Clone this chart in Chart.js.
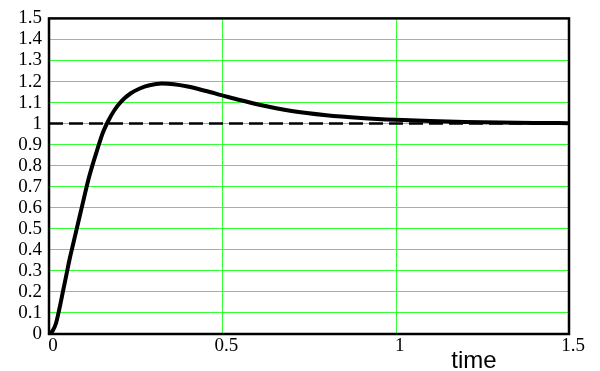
<!DOCTYPE html>
<html lang="en">
<head>
    <meta charset="UTF-8">
    <title>Step Response</title>
    <script src="https://cdn.jsdelivr.net/npm/chart.js"></script>
    <style>
        html, body { margin: 0; padding: 0; background: #ffffff; }
        .chart-box { width: 600px; height: 371px; }
    </style>
</head>
<body>
    <div class="chart-box"><canvas id="stepChart"></canvas></div>

    <script>
        // values
        const timeValues = [0, 0.01, 0.02, 0.03, 0.04, 0.05, 0.06, 0.07, 0.08, 0.09, 0.1, 0.113, 0.125, 0.14,
            0.155, 0.17, 0.19, 0.21, 0.235, 0.262, 0.29, 0.325, 0.36, 0.4, 0.45, 0.5, 0.55, 0.6, 0.7, 0.8, 0.9,
            1.0, 1.1, 1.2, 1.3, 1.4, 1.5];
        const responseValues = [0, 0.014, 0.05, 0.12, 0.2, 0.28, 0.36, 0.43, 0.5, 0.57, 0.64, 0.73, 0.8, 0.88,
            0.955, 1.01, 1.067, 1.108, 1.143, 1.167, 1.182, 1.19, 1.187, 1.176, 1.156, 1.134, 1.112, 1.092, 1.06, 1.04, 1.027,
            1.018, 1.012, 1.008, 1.005, 1.003, 1.002];
        const setpointTimes = [0, 1.5];
        const setpointValues = [1, 1];
        const xTicks = [0, 0.5, 1, 1.5];
        const yTicks = [0, 0.1, 0.2, 0.3, 0.4, 0.5, 0.6, 0.7, 0.8, 0.9, 1, 1.1, 1.2, 1.3, 1.4, 1.5];
        const xTitle = 'time';

        const gridColor = '#33ff33';

        // vertical grid lines, black frame round the plot, "time" label under the axis
        const frameAndTitle = {
            id: 'frameAndTitle',
            beforeDatasetsDraw(chart) {
                const { ctx, chartArea: a } = chart;
                const x = chart.scales.x;
                ctx.save();
                ctx.strokeStyle = gridColor;
                ctx.lineWidth = 1;
                xTicks.forEach(v => {
                    const px = Math.round(x.getPixelForValue(v)) + 0.5;
                    ctx.beginPath();
                    ctx.moveTo(px, a.top);
                    ctx.lineTo(px, a.bottom);
                    ctx.stroke();
                });
                ctx.strokeStyle = '#000';
                ctx.lineWidth = 2.5;
                ctx.strokeRect(a.left, a.top, a.right - a.left, a.bottom - a.top);
                ctx.restore();
            },
            afterDraw(chart) {
                const ctx = chart.ctx;
                const x = chart.scales.x;
                ctx.save();
                ctx.font = '24px "Liberation Sans", Arial, sans-serif';
                ctx.fillStyle = '#000';
                ctx.textAlign = 'center';
                ctx.textBaseline = 'alphabetic';
                ctx.fillText(xTitle, x.getPixelForValue(1.226), x.bottom - 3);
                ctx.restore();
            }
        };

        const tickFont = { family: '"Liberation Serif", "Times New Roman", serif', size: 19 };

        const ctx = document.getElementById('stepChart').getContext('2d');
        new Chart(ctx, {
            type: 'line',
            data: {
                datasets: [
                    {
                        data: timeValues.map((t, i) => ({ x: t, y: responseValues[i] })),
                        borderColor: '#000',
                        borderWidth: 4,
                        pointRadius: 0,
                        cubicInterpolationMode: 'monotone',
                        fill: false
                    },
                    {
                        data: setpointTimes.map((t, i) => ({ x: t, y: setpointValues[i] })),
                        borderColor: '#000',
                        borderWidth: 2.5,
                        borderDash: [14, 6],
                        pointRadius: 0,
                        fill: false
                    }
                ]
            },
            options: {
                responsive: true,
                maintainAspectRatio: false,
                animation: false,
                layout: { padding: { top: 14, right: 31, left: 0, bottom: 0 } },
                plugins: {
                    legend: { display: false },
                    tooltip: { enabled: false }
                },
                scales: {
                    x: {
                        type: 'linear',
                        min: 0,
                        max: 1.5,
                        afterBuildTicks: s => { s.ticks = xTicks.map(v => ({ value: v })); },
                        afterFit: s => { s.height = 37; },
                        grid: { display: false, drawTicks: false },
                        border: { display: false },
                        ticks: {
                            color: '#000',
                            font: tickFont,
                            padding: 1,
                            labelOffset: 4,
                            maxRotation: 0,
                            autoSkip: false,
                            callback: v => String(v)
                        }
                    },
                    y: {
                        min: 0,
                        max: 1.5,
                        afterBuildTicks: s => { s.ticks = yTicks.map(v => ({ value: v })); },
                        afterFit: s => { s.width = 49; },
                        grid: { color: gridColor, lineWidth: 1, drawTicks: false },
                        border: { display: false },
                        ticks: {
                            color: '#000',
                            font: tickFont,
                            padding: 7,
                            autoSkip: false,
                            callback: v => String(v)
                        }
                    }
                }
            },
            plugins: [frameAndTitle]
        });
    </script>
</body>
</html>
